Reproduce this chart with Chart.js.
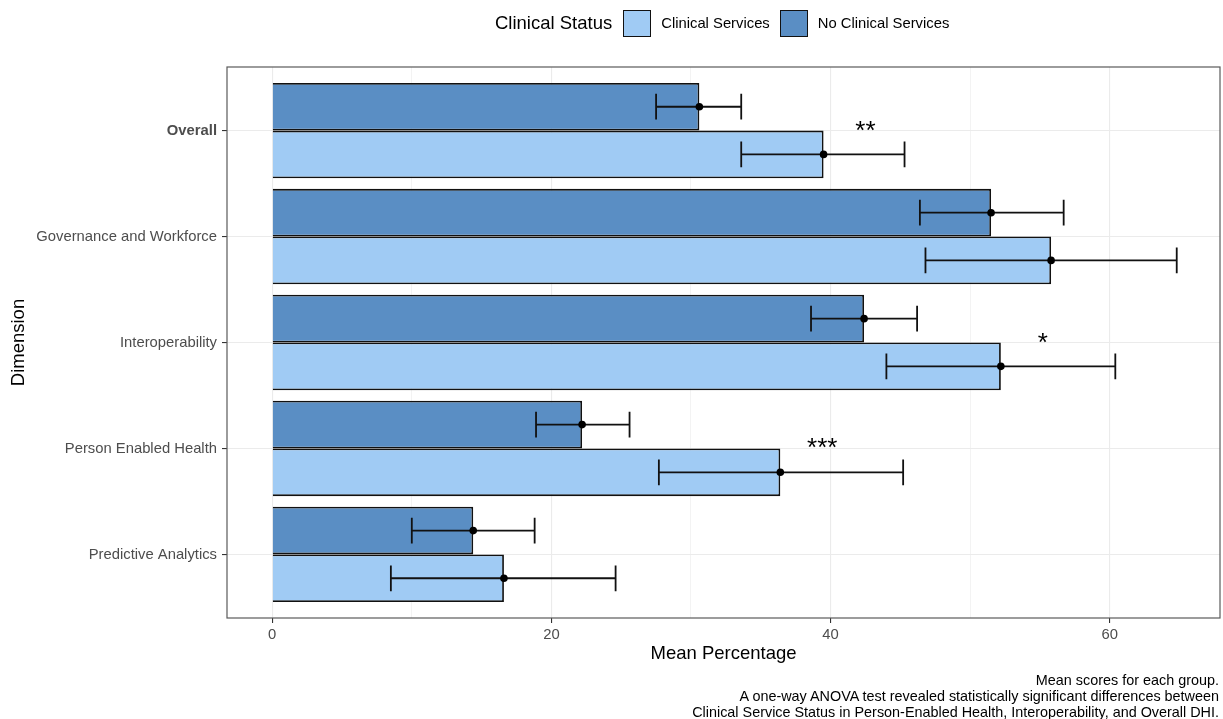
<!DOCTYPE html>
<html>
<head>
<meta charset="utf-8">
<script src="https://cdn.jsdelivr.net/npm/chart.js@4.4.1/dist/chart.umd.min.js"></script>
<style>
  body { margin: 0; background: #fff; font-family: "Liberation Sans", Arial, sans-serif; }
  #wrap { position: relative; width: 1223px; height: 719px; }
  #legend { position: absolute; left: 495px; top: 9px; height: 28px; display: flex; align-items: center; color: #000; }
  #legend .title { font-size: 18.5px; margin-right: 11px; }
  #legend .box { width: 26px; height: 25px; border: 1.5px solid #111; margin-right: 10px; }
  #legend .lab { font-size: 14.8px; margin-right: 10px; }
  #caption { position: absolute; right: 4px; top: 672px; text-align: right; font-size: 14.4px; line-height: 16px; color: #000; }
</style>
</head>
<body>
<div id="wrap">
  <canvas id="myChart" width="1223" height="719"></canvas>
  <div id="legend">
    <span class="title">Clinical Status</span>
    <span class="box" style="background:#a0cbf4"></span><span class="lab">Clinical Services</span>
    <span class="box" style="background:#5a8ec4"></span><span class="lab">No Clinical Services</span>
  </div>
  <div id="caption">
    Mean scores for each group.<br>
    A one-way ANOVA test revealed statistically significant differences between<br>
    Clinical Service Status in Person-Enabled Health, Interoperability, and Overall DHI.
  </div>
</div>
<script>
// Data
const categories = ['Overall', 'Governance and Workforce', 'Interoperability', 'Person Enabled Health', 'Predictive Analytics'];

const clinicalMean = [39.5, 55.8, 52.2, 36.4, 16.6];
const clinicalLow = [33.6, 46.8, 44.0, 27.7, 8.5];
const clinicalHigh = [45.3, 64.8, 60.4, 45.2, 24.6];

const noClinicalMean = [30.6, 51.5, 42.4, 22.2, 14.4];
const noClinicalLow = [27.5, 46.4, 38.6, 18.9, 10.0];
const noClinicalHigh = [33.6, 56.7, 46.2, 25.6, 18.8];

const significance = ['**', '', '*', '***', ''];
const xTicks = [0, 10, 20, 30, 40, 50, 60];

const lightBlue = '#a0cbf4';
const darkBlue = '#5a8ec4';

// error bars, mean points and significance stars
const errorBarPlugin = {
    id: 'errorBars',
    afterDatasetsDraw(chart) {
        const ctx = chart.ctx;
        const xScale = chart.scales.x;
        const yScale = chart.scales.y;
        const lows = [noClinicalLow, clinicalLow];
        const highs = [noClinicalHigh, clinicalHigh];
        const means = [noClinicalMean, clinicalMean];
        ctx.save();
        ctx.strokeStyle = '#111';
        ctx.fillStyle = '#000';
        ctx.lineWidth = 1.8;
        for (let d = 0; d < 2; d++) {
            const meta = chart.getDatasetMeta(d);
            meta.data.forEach((bar, i) => {
                const y = bar.y;
                const x1 = xScale.getPixelForValue(lows[d][i]);
                const x2 = xScale.getPixelForValue(highs[d][i]);
                const cap = bar.height * 0.27;
                ctx.beginPath();
                ctx.moveTo(x1, y); ctx.lineTo(x2, y);
                ctx.moveTo(x1, y - cap); ctx.lineTo(x1, y + cap);
                ctx.moveTo(x2, y - cap); ctx.lineTo(x2, y + cap);
                ctx.stroke();
                ctx.beginPath();
                ctx.arc(xScale.getPixelForValue(means[d][i]), y, 3.8, 0, Math.PI * 2);
                ctx.fill();
            });
        }
        ctx.font = '26px "Liberation Sans", Arial, sans-serif';
        ctx.textAlign = 'center';
        ctx.textBaseline = 'alphabetic';
        significance.forEach((s, i) => {
            if (!s) return;
            const x = xScale.getPixelForValue(clinicalMean[i] + 3);
            const y = yScale.getPixelForValue(i) + 8;
            ctx.fillText(s, x, y);
        });
        ctx.restore();
    },
    afterDraw(chart) {
        const a = chart.chartArea;
        const ctx = chart.ctx;
        ctx.save();
        ctx.strokeStyle = '#5a5a5a';
        ctx.lineWidth = 1.2;
        ctx.strokeRect(a.left, a.top, a.right - a.left, a.bottom - a.top);
        ctx.restore();
    }
};

const ctx = document.getElementById('myChart').getContext('2d');

const myChart = new Chart(ctx, {
    type: 'bar',
    data: {
        datasets: [{
            label: 'No Clinical Services',
            data: noClinicalMean.map((v, i) => ({ x: v, y: i })),
            backgroundColor: darkBlue,
            borderColor: '#111',
            borderWidth: 1.8
        }, {
            label: 'Clinical Services',
            data: clinicalMean.map((v, i) => ({ x: v, y: i })),
            backgroundColor: lightBlue,
            borderColor: '#111',
            borderWidth: 1.8
        }]
    },
    plugins: [errorBarPlugin],
    options: {
        indexAxis: 'y',
        responsive: false,
        animation: false,
        devicePixelRatio: 1,
        categoryPercentage: 0.9,
        barPercentage: 1.0,
        layout: { padding: { top: 67, right: 3, left: 0, bottom: 47 } },
        plugins: {
            legend: { display: false },
            tooltip: { enabled: false }
        },
        scales: {
            x: {
                type: 'linear',
                min: -3.24,
                max: 67.9,
                afterBuildTicks: scale => { scale.ticks = xTicks.map(v => ({ value: v })); },
                afterFit: scale => { scale.height = 54; },
                border: { display: false },
                grid: {
                    color: '#ebebeb',
                    lineWidth: c => (c.tick && c.tick.value % 20 === 0) ? 1.1 : 0.6,
                    tickColor: c => (c.tick && c.tick.value % 20 === 0) ? '#333' : 'rgba(0,0,0,0)',
                    tickLength: 5
                },
                ticks: {
                    color: '#4d4d4d',
                    font: { family: '"Liberation Sans", Arial, sans-serif', size: 14.8 },
                    padding: 3,
                    maxRotation: 0,
                    autoSkip: false,
                    callback: v => (v % 20 === 0 ? v : '')
                },
                title: {
                    display: true,
                    text: 'Mean Percentage',
                    color: '#000',
                    font: { family: '"Liberation Sans", Arial, sans-serif', size: 18.5 },
                    padding: { top: 0, bottom: 7 }
                }
            },
            y: {
                type: 'linear',
                reverse: true,
                offset: false,
                min: -0.6,
                max: 4.6,
                afterBuildTicks: scale => { scale.ticks = categories.map((c, i) => ({ value: i })); },
                afterFit: scale => { scale.width = 227; },
                border: { display: false },
                grid: {
                    offset: false,
                    color: '#ebebeb',
                    lineWidth: 1.1,
                    tickColor: '#333',
                    tickLength: 5
                },
                ticks: {
                    color: '#4d4d4d',
                    autoSkip: false,
                    padding: 5,
                    font: c => ({
                        family: '"Liberation Sans", Arial, sans-serif',
                        size: 14.8,
                        weight: (c.tick && c.tick.value === 0) ? 'bold' : 'normal'
                    }),
                    callback: v => categories[v]
                },
                title: {
                    display: true,
                    text: 'Dimension',
                    color: '#000',
                    font: { family: '"Liberation Sans", Arial, sans-serif', size: 18.5 },
                    padding: { top: 8, bottom: 0 }
                }
            }
        }
    }
});
</script>
</body>
</html>
